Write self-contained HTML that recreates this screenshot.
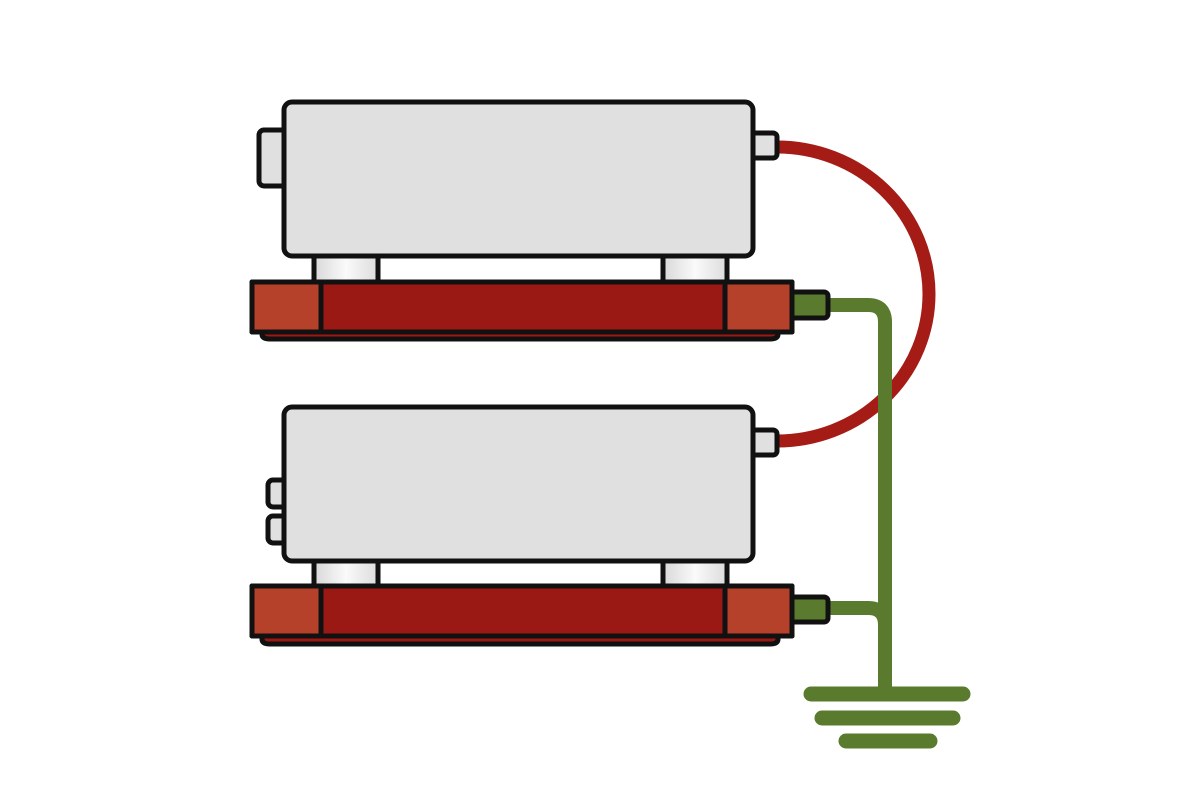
<!DOCTYPE html>
<html><head><style>html,body{margin:0;padding:0;background:#fff}svg{display:block}</style></head>
<body>
<svg width="1200" height="800" viewBox="0 0 1200 800" xmlns="http://www.w3.org/2000/svg">
<defs>
<linearGradient id="ft" x1="0" x2="1" y1="0" y2="0">
<stop offset="0" stop-color="#d8d8d8"/><stop offset="0.5" stop-color="#fafafa"/><stop offset="1" stop-color="#dcdcdc"/>
</linearGradient>
</defs>
<path d="M777 147 A152 147 0 0 1 777 441" fill="none" stroke="#a51c17" stroke-width="13"/>
<g fill="none" stroke="#5a7a2e" stroke-width="14">
<path d="M826 305 H868 Q885 305 885 322 V690"/>
<path d="M826 608 H868 Q885 608 885 625"/>
</g>
<g stroke="#5a7a2e" stroke-width="15" stroke-linecap="round">
<line x1="811" y1="694" x2="963" y2="694"/>
<line x1="822" y1="718" x2="953" y2="718"/>
<line x1="846" y1="741" x2="930" y2="741"/>
</g>
<g stroke="#111" stroke-width="5" stroke-linejoin="round">
<rect x="259" y="130" width="30" height="56" rx="5" fill="#e0e0e0"/>
<rect x="749" y="133" width="28" height="25" rx="4" fill="#e0e0e0"/>
<rect x="284" y="102" width="469" height="154" rx="8" fill="#e0e0e0"/>
<rect x="314" y="256" width="64" height="27" fill="url(#ft)"/>
<rect x="663" y="256" width="64" height="27" fill="url(#ft)"/>
<path d="M262 330 V334 Q262 339 270 339 H770 Q778 339 778 334 V330 Z" fill="#9b1915"/>
<rect x="788" y="292" width="40" height="26" rx="4" fill="#5a7a2e"/>
<rect x="252" y="282" width="540" height="50" fill="#9b1915"/>
<rect x="252" y="282" width="69" height="50" fill="#b5412a"/>
<rect x="725" y="282" width="67" height="50" fill="#b5412a"/>
<rect x="268" y="480" width="20" height="27" rx="5" fill="#e0e0e0"/>
<rect x="268" y="516" width="20" height="27" rx="5" fill="#e0e0e0"/>
<rect x="749" y="430" width="28" height="25" rx="4" fill="#e0e0e0"/>
<rect x="284" y="407" width="469" height="154" rx="8" fill="#e0e0e0"/>
<rect x="314" y="561" width="64" height="26" fill="url(#ft)"/>
<rect x="663" y="561" width="64" height="26" fill="url(#ft)"/>
<path d="M262 634 V639 Q262 644 270 644 H770 Q778 644 778 639 V634 Z" fill="#9b1915"/>
<rect x="788" y="597" width="40" height="25" rx="4" fill="#5a7a2e"/>
<rect x="252" y="586" width="540" height="50" fill="#9b1915"/>
<rect x="252" y="586" width="69" height="50" fill="#b5412a"/>
<rect x="725" y="586" width="67" height="50" fill="#b5412a"/>
</g>
</svg>
</body></html>
